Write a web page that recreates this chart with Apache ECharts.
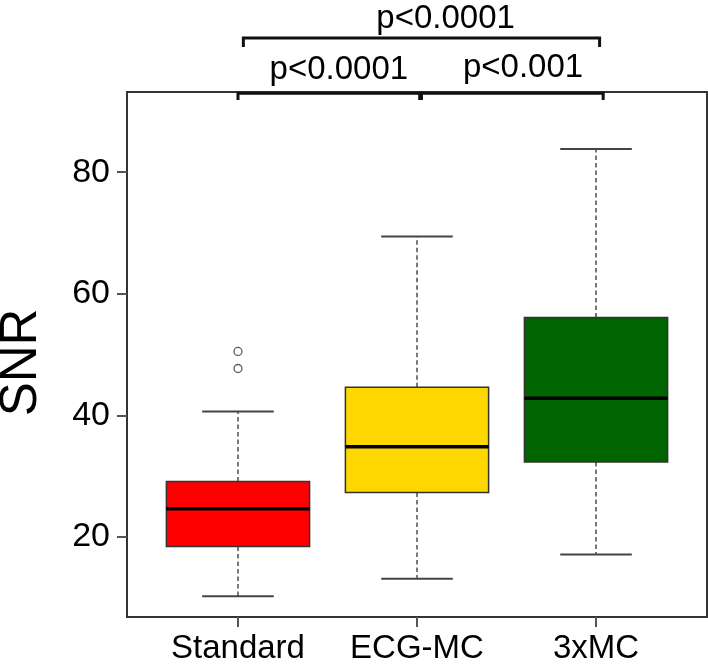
<!DOCTYPE html>
<html>
<head>
<meta charset="utf-8">
<script src="https://cdn.jsdelivr.net/npm/echarts@6/dist/echarts.min.js"></script>
<style>
  html, body { margin: 0; padding: 0; background: #fff; }
  #chart { width: 708px; height: 667px; }
</style>
</head>
<body>
<div id="chart"></div>
<script>
// groups and five-number summaries
const categories = ['Standard', 'ECG-MC', '3xMC'];
const whiskerLow = [10.2, 13.1, 17.1];
const q1 = [18.4, 27.3, 32.3];
const medians = [24.6, 34.8, 42.8];
const q3 = [29.1, 44.6, 56.1];
const whiskerHigh = [40.6, 69.4, 83.8];
const boxColors = ['#ff0000', '#ffd700', '#006400'];

// outliers (group index is 1-based)
const outlierGroup = [1, 1];
const outlierValues = [50.5, 47.7];

// pairwise comparisons: [from, to, label]
const comparisons = [
  [1, 2, 'p<0.0001'],
  [2, 3, 'p<0.001'],
  [1, 3, 'p<0.0001']
];

const yTicks = [20, 40, 60, 80];

const FONT = '"Liberation Sans", Arial, sans-serif';

const boxData = categories.map((c, i) => [i + 1, whiskerLow[i], q1[i], medians[i], q3[i], whiskerHigh[i]]);
const outlierData = outlierGroup.map((g, i) => [g, outlierValues[i]]);

// bracket layout: y levels in data units, small x nudges
const bracketLayout = [
  { y: 93.0, drop: 1.1, dx1: 0.0, dx2: 0.015, tx: 0.056, ty: 96.8 },
  { y: 93.0, drop: 1.1, dx1: 0.025, dx2: 0.04, tx: 0.06, ty: 97.1 },
  { y: 102.1, drop: 1.5, dx1: 0.03, dx2: 0.02, tx: 0.135, ty: 105.3 }
];

const renderBox = (params, api) => {
  const x = api.value(0);
  const lo = api.coord([x, api.value(1)]);
  const b1 = api.coord([x, api.value(2)]);
  const md = api.coord([x, api.value(3)]);
  const b3 = api.coord([x, api.value(4)]);
  const hi = api.coord([x, api.value(5)]);
  const w = api.size([0.8, 0])[0];
  const cx = lo[0];
  const dash = { stroke: '#333', lineWidth: 1.3, lineDash: [4.5, 3] };
  const cap = { stroke: '#444', lineWidth: 2 };
  return {
    type: 'group',
    children: [
      { type: 'line', shape: { x1: cx, y1: b3[1], x2: cx, y2: hi[1] }, style: dash },
      { type: 'line', shape: { x1: cx, y1: b1[1], x2: cx, y2: lo[1] }, style: dash },
      { type: 'line', shape: { x1: cx - w / 4, y1: hi[1], x2: cx + w / 4, y2: hi[1] }, style: cap },
      { type: 'line', shape: { x1: cx - w / 4, y1: lo[1], x2: cx + w / 4, y2: lo[1] }, style: cap },
      {
        type: 'rect',
        shape: { x: cx - w / 2, y: b3[1], width: w, height: b1[1] - b3[1] },
        style: { fill: boxColors[params.dataIndex], stroke: '#333', lineWidth: 1.5 }
      },
      { type: 'line', shape: { x1: cx - w / 2, y1: md[1], x2: cx + w / 2, y2: md[1] }, style: { stroke: '#000', lineWidth: 3.5 } }
    ]
  };
};

const renderBracket = (params, api) => {
  const L = bracketLayout[params.dataIndex];
  const a = api.value(0) + L.dx1;
  const b = api.value(1) + L.dx2;
  const p1 = api.coord([a, L.y]);
  const p2 = api.coord([b, L.y]);
  const d1 = api.coord([a, L.y - L.drop]);
  const t = api.coord([(a + b) / 2 + L.tx, L.ty]);
  const st = { stroke: '#111', lineWidth: 3, lineCap: 'butt' };
  return {
    type: 'group',
    children: [
      { type: 'polyline', shape: { points: [[p1[0], d1[1]], p1, p2, [p2[0], d1[1]]] }, style: Object.assign({ fill: null }, st) },
      {
        type: 'text',
        x: t[0],
        y: t[1],
        style: {
          text: comparisons[params.dataIndex][2],
          fill: '#000',
          font: '33px ' + FONT,
          textAlign: 'center',
          textVerticalAlign: 'middle',
          align: 'center',
          verticalAlign: 'middle'
        }
      }
    ]
  };
};

const chart = echarts.init(document.getElementById('chart'), null, { renderer: 'canvas' });

const option = {
  backgroundColor: '#fff',
  animation: false,
  grid: {
    left: 127,
    right: 1,
    top: 92,
    bottom: 50,
    show: true,
    borderColor: '#333',
    borderWidth: 2,
    backgroundColor: 'transparent',
    containLabel: false,
    outerBoundsMode: 'none'
  },
  xAxis: {
    type: 'value',
    min: 0.38,
    max: 3.62,
    splitLine: { show: false },
    axisLine: { show: false },
    axisTick: {
      show: true,
      customValues: [1, 2, 3],
      length: 10,
      lineStyle: { color: '#555', width: 2 }
    },
    axisLabel: {
      customValues: [1, 2, 3],
      formatter: (v) => categories[Math.round(v) - 1] || '',
      margin: 15,
      fontSize: 33,
      fontFamily: FONT,
      color: '#000'
    }
  },
  yAxis: {
    type: 'value',
    min: 6.8,
    max: 93.2,
    name: 'SNR',
    nameLocation: 'middle',
    nameRotate: 90,
    nameGap: 80,
    nameTextStyle: { fontSize: 51, fontFamily: FONT, color: '#000', padding: [0, 16, 0, 0] },
    splitLine: { show: false },
    axisLine: { show: false },
    axisTick: {
      show: true,
      customValues: yTicks,
      length: 10,
      lineStyle: { color: '#555', width: 2 }
    },
    axisLabel: {
      customValues: yTicks,
      margin: 17,
      fontSize: 34,
      fontFamily: FONT,
      color: '#000'
    }
  },
  series: [
    {
      type: 'custom',
      name: 'box',
      renderItem: renderBox,
      encode: { x: 0, y: [1, 2, 3, 4, 5] },
      data: boxData,
      silent: true
    },
    {
      type: 'scatter',
      name: 'outliers',
      data: outlierData,
      symbol: 'circle',
      symbolSize: 8,
      itemStyle: { color: '#fff', borderColor: '#333', borderWidth: 1.3 },
      silent: true
    },
    {
      type: 'custom',
      name: 'brackets',
      renderItem: renderBracket,
      clip: false,
      encode: { x: [0, 1] },
      data: comparisons.map((c) => [c[0], c[1]]),
      silent: true,
      z: 10
    }
  ]
};

chart.setOption(option);
</script>
</body>
</html>
